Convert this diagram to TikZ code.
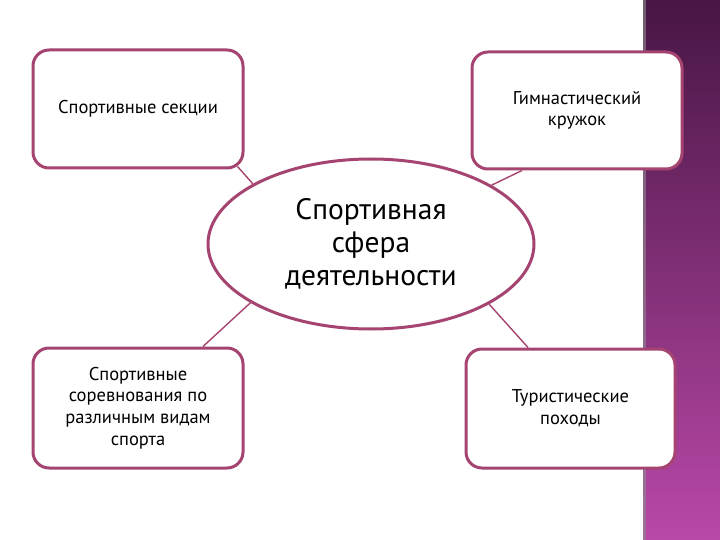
\documentclass[tikz,border=0pt]{standalone}
\usepackage{fontspec}
\setmainfont{PT Sans}
\usetikzlibrary{shapes.geometric,calc}
\definecolor{frame}{RGB}{165,68,112}
\definecolor{stripTop}{RGB}{72,22,68}
\definecolor{stripMid}{RGB}{125,40,115}
\definecolor{stripBot}{RGB}{185,72,168}
\begin{document}
\begin{tikzpicture}[x=1pt,y=-1pt,
  box/.style={draw=frame,line width=3pt,fill=white,rounded corners=16pt,
    align=center,font=\fontsize{18.5}{21.8}\selectfont,inner sep=2pt},
  hub/.style={ellipse,draw=frame,line width=3pt,fill=white,align=center,
    font=\fontsize{29.5}{33}\selectfont,inner sep=0pt},
  link/.style={draw=frame,line width=1.4pt}]
\useasboundingbox (0,0) rectangle (720,540);
\fill[white] (0,0) rectangle (720,540);
\shade[top color=stripTop,middle color=stripMid,bottom color=stripBot] (643,0) rectangle (720,540);
\fill[black!45,opacity=0.6] (643,0) rectangle (645.5,540);
\node[box,minimum width=210pt,minimum height=118pt] (tl) at (138,109) {Спортивные секции};
\node[box,minimum width=210pt,minimum height=117pt] (tr) at (577,110.5) {Гимнастический\\кружок};
\node[box,minimum width=210pt,minimum height=120pt] (bl) at (138,408) {Спортивные\\соревнования по\\различным видам\\спорта};
\node[box,minimum width=209pt,minimum height=119pt] (br) at (570.5,408.5) {Туристические\\походы};
\node[hub,minimum width=326pt,minimum height=170pt] (hub) at (371,244) {Спортивная\\сфера\\деятельности};
\coordinate (tlEnd) at ($(tl.south east)+(-7,-3)$);
\coordinate (trEnd) at ($(tr.south)+(-55,0)$);
\coordinate (blEnd) at ($(bl.north)+(65,0)$);
\coordinate (brEnd) at ($(br.north)+(-42.5,0)$);
\draw[link] (hub.153.4) -- (tlEnd);
\draw[link] (hub.26.8) -- (trEnd);
\draw[link] (hub.206.6) -- (blEnd);
\draw[link] (hub.333.4) -- (brEnd);
\end{tikzpicture}
\end{document}
